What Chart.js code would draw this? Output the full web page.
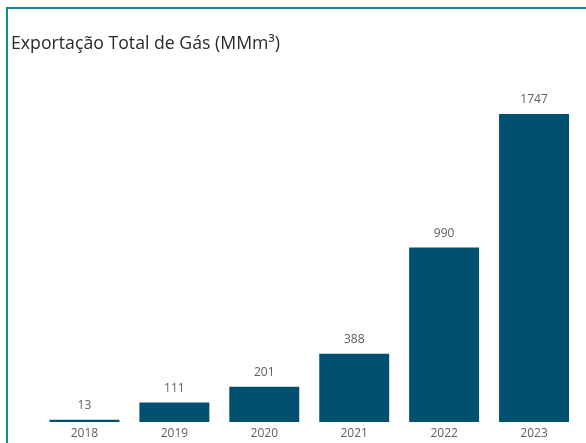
<!DOCTYPE html>
<html>
<head>
<meta charset="utf-8">
<script src="https://cdn.jsdelivr.net/npm/chart.js@4"></script>
<style>
  html, body { margin: 0; padding: 0; background: #fff; }
  #wrap { position: relative; width: 586px; height: 443px; overflow: hidden; }
  #frame {
    position: absolute; left: 6px; top: 7px; right: -10px; bottom: -10px;
    border-left: 2px solid #12889a; border-top: 2px solid #12889a;
    pointer-events: none;
  }
  #title {
    position: absolute; left: 11px; top: 30px;
    font: 17.7px "Open Sans", sans-serif; color: #2b2a29; white-space: nowrap;
  }
  canvas { position: absolute; left: 0; top: 0; }
</style>
</head>
<body>
<div id="wrap">
  <canvas id="chart" width="586" height="450"></canvas>
  <div id="frame"></div>
  <div id="title">Exportação Total de Gás (MMm³)</div>
</div>
<script>
// ── Data ────────────────────────────────────────────────────────────
const YEARS = ['2018', '2019', '2020', '2021', '2022', '2023'];
const EXPORT_VALUES = [13, 111, 201, 388, 990, 1747];

const BAR_COLOR = '#01506f';
const TEXT_COLOR = '#605e5c';

// Value labels above each bar
const valueLabels = {
  id: 'valueLabels',
  afterDatasetsDraw(chart) {
    const ctx = chart.ctx;
    const meta = chart.getDatasetMeta(0);
    ctx.save();
    ctx.font = '12px "Open Sans", sans-serif';
    ctx.fillStyle = TEXT_COLOR;
    ctx.textAlign = 'center';
    ctx.textBaseline = 'bottom';
    meta.data.forEach((bar, i) => {
      ctx.fillText(String(EXPORT_VALUES[i]), bar.x, bar.y - 8);
    });
    ctx.restore();
  }
};

new Chart(document.getElementById('chart'), {
  type: 'bar',
  data: {
    labels: YEARS,
    datasets: [{
      data: EXPORT_VALUES,
      backgroundColor: BAR_COLOR,
      borderWidth: 0,
      categoryPercentage: 1,
      barPercentage: 0.778,
    }],
  },
  options: {
    responsive: false,
    animation: false,
    layout: { padding: { left: 39.5, right: 7, top: 87, bottom: 5.5 } },
    scales: {
      y: { display: false, min: 0, max: 1900 },
      x: {
        grid: { display: false, drawTicks: false },
        border: { display: false },
        ticks: {
          color: TEXT_COLOR,
          padding: 4,
          font: { family: '"Open Sans", sans-serif', size: 12 },
        },
      },
    },
    plugins: {
      legend: { display: false },
      tooltip: { enabled: false },
    },
  },
  plugins: [valueLabels],
});
</script>
</body>
</html>
